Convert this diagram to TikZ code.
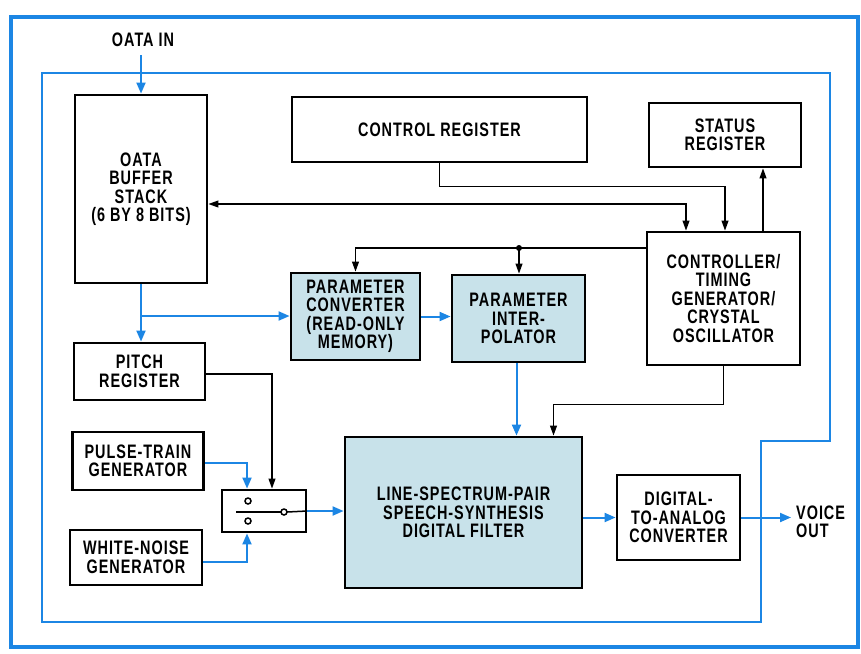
\documentclass[tikz,border=0pt]{standalone}
\usepackage{fontspec}
\setmainfont[FakeStretch=0.74,LetterSpace=5]{Liberation Sans}
\usetikzlibrary{arrows.meta,calc}
\definecolor{bl}{RGB}{28,134,228}
\definecolor{fillb}{RGB}{200,226,234}
\begin{document}
\begin{tikzpicture}[x=1pt,y=-1pt,
  txt/.style={font=\fontsize{19.5}{18.5}\selectfont\bfseries, align=center, inner sep=0pt},
  box/.style={txt, draw, line width=2.9pt, fill=white},
  tint/.style={box, fill=fillb},
  barrow/.style={draw=bl, line width=2pt, -{Triangle[length=11pt,width=9pt]}},
  karrow/.style={draw=black, line width=1.1pt, -{Triangle[length=10pt,width=7pt]}},
  kboth/.style={draw=black, line width=1.1pt, {Triangle[length=10pt,width=7pt]}-{Triangle[length=10pt,width=7pt]}}]
\useasboundingbox (0,0) rectangle (861,653);
\fill[white] (0,0) rectangle (861,653);
% frames
\draw[bl, line width=3.5pt] (11,17) rectangle (858,647);
\draw[bl, line width=2pt] (42,73) -- (830,73) -- (830,441) -- (761,441) -- (761,622) -- (42,622) -- cycle;
% nodes
\node[txt] (din) at (143,40) {OATA IN};
\node[box, minimum width=132pt, minimum height=188pt] (buf) at (141,189) {OATA\\BUFFER\\STACK\\(6 BY 8 BITS)};
\node[box, minimum width=295pt, minimum height=65pt] (ctrlreg) at (439.5,129.5) {CONTROL REGISTER};
\node[box, minimum width=152pt, minimum height=64pt] (status) at (725,135) {STATUS\\REGISTER};
\node[box, minimum width=153pt, minimum height=133pt] (ctrl) at (723.5,298.5) {CONTROLLER/\\TIMING\\GENERATOR/\\CRYSTAL\\OSCILLATOR};
\node[tint, minimum width=129pt, minimum height=87pt] (pconv) at (355.5,316.5) {PARAMETER\\CONVERTER\\(READ-ONLY\\MEMORY)};
\node[tint, minimum width=133pt, minimum height=87pt] (pint) at (518.5,318.5) {PARAMETER\\INTER-\\POLATOR};
\node[box, minimum width=131pt, minimum height=57pt] (pitch) at (139.5,371.5) {PITCH\\REGISTER};
\node[box, minimum width=131pt, minimum height=58pt] (pulse) at (138,461) {PULSE-TRAIN\\GENERATOR};
\node[box, minimum width=132pt, minimum height=55pt] (noise) at (136,557.5) {WHITE-NOISE\\GENERATOR};
\node[box, minimum width=84pt, minimum height=42pt] (sw) at (264,511) {};
\node[tint, minimum width=237pt, minimum height=151pt] (filt) at (463.5,512.5) {LINE-SPECTRUM-PAIR\\SPEECH-SYNTHESIS\\DIGITAL FILTER};
\node[box, minimum width=123pt, minimum height=85pt] (dac) at (678.5,517.5) {DIGITAL-\\TO-ANALOG\\CONVERTER};
\node[txt, anchor=west, align=left] (vo) at (796,522) {VOICE\\OUT};
% switch interior
\draw[line width=1.5pt] (248,501) circle[radius=3pt];
\draw[line width=1.5pt] (248,521) circle[radius=3pt];
\draw[line width=1.5pt] (236,512) -- (281,512);
\draw[line width=1.5pt] (284,512) circle[radius=3pt];
\draw[line width=1.5pt] (287,512) -- (sw.east);
% connectors
\coordinate (dot) at (519,248);
\coordinate (br) at (141,316);
\draw[barrow] (din.south -| buf.north) ++(0,8) -- (buf.north);
\draw[karrow] (ctrlreg.south) -- ++(0,23) -| ([xshift=1.5pt]ctrl.north);
\draw[kboth] ([yshift=-15pt]buf.east) -| ([xshift=-37.5pt]ctrl.north);
\draw[karrow] ([xshift=39.5pt]ctrl.north) -- ([xshift=39.5pt]ctrl.north |- status.south);
\draw[karrow] ([yshift=50.5pt]ctrl.west) -| (pconv.north);
\fill (dot) circle[radius=3pt];
\draw[karrow] (dot) -- (dot |- pint.north);
\draw[barrow] (buf.south) -- (buf.south |- pitch.north);
\draw[barrow] (br) -- (br -| pconv.west);
\draw[barrow] (pconv.east) -- (pconv.east -| pint.west);
\draw[barrow] ([xshift=-2pt]pint.south) -- ([xshift=-2pt]pint.south |- filt.north);
\draw[karrow] (ctrl.south) -- ++(0,38) -| ([xshift=90pt]filt.north);
\draw[karrow] ([yshift=-2.5pt]pitch.east) -| ([xshift=8pt]sw.north);
\draw[barrow] ([yshift=-2pt]pulse.east) -| ([xshift=-17pt]sw.north);
\draw[barrow] ([yshift=-4.5pt]noise.east) -| ([xshift=-17pt]sw.south);
\draw[barrow] (sw.east) -- (sw.east -| filt.west);
\draw[barrow] (dac.west -| filt.east) -- (dac.west);
\draw[barrow] (dac.east) -- ([xshift=-5pt]dac.east -| vo.west);
\end{tikzpicture}
\end{document}
